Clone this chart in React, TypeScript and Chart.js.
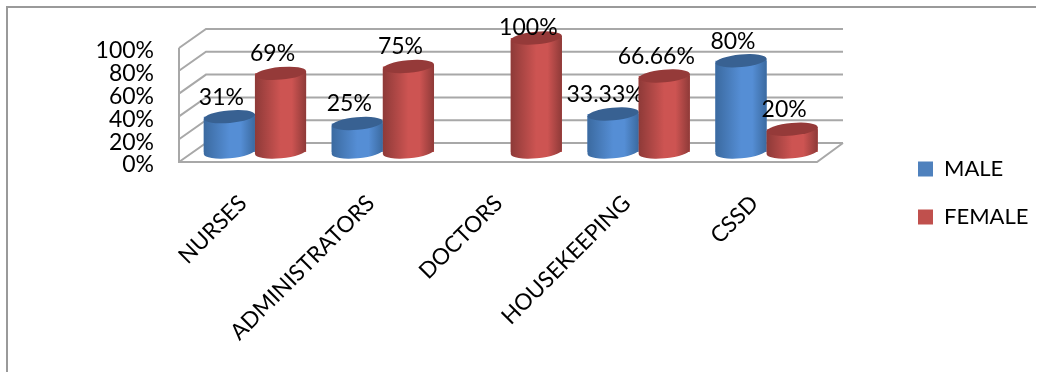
import React, { useEffect, useRef } from "react";
import { Chart, registerables } from "chart.js";

Chart.register(...registerables);

const categories = ["NURSES", "ADMINISTRATORS", "DOCTORS", "HOUSEKEEPING", "CSSD"];
const maleShare = [31, 25, null, 33.33, 80];
const femaleShare = [69, 75, 100, 66.66, 20];
const yTicks = [0, 20, 40, 60, 80, 100];

const FONT = "Lato, Carlito, sans-serif";
const GRID = "#a8a8a8";

const PALETTES = [
  { flat: "#4f81bd", edge: "#3b6aa0", mid: "#558ed5", cap: "#386192" },
  { flat: "#c0504d", edge: "#8e3a38", mid: "#cd5452", cap: "#953a39" },
];

// Floor depth of the pseudo-3D box, relative to the plane the cylinders stand on.
const FRONT_DROP = 10;
const BACK_RISE = 9;
const BOX_LEFT = 179;
const BOX_RIGHT = 817;
const DEPTH_X = 27;
const CAP_RY = 6.3;
const TILT = -0.09;

const boxPlugin = {
  id: "box3d",
  beforeDraw(chart: any) {
    const { ctx, scales, width, height } = chart;
    const y = scales.y;
    ctx.save();
    ctx.strokeStyle = "#9a9a9a";
    ctx.lineWidth = 2;
    ctx.beginPath();
    ctx.moveTo(7, height);
    ctx.lineTo(7, 7);
    ctx.lineTo(width - 3, 7);
    ctx.stroke();

    ctx.strokeStyle = GRID;
    ctx.lineWidth = 2;
    ctx.beginPath();
    for (const t of yTicks) {
      const py = y.getPixelForValue(t);
      ctx.moveTo(BOX_LEFT, py + FRONT_DROP);
      ctx.lineTo(BOX_LEFT + DEPTH_X, py - BACK_RISE);
      ctx.lineTo(BOX_RIGHT + DEPTH_X - 1, py - BACK_RISE);
    }
    const y0 = y.getPixelForValue(0);
    const y100 = y.getPixelForValue(100);
    ctx.moveTo(BOX_LEFT, y100 + FRONT_DROP);
    ctx.lineTo(BOX_LEFT, y0 + FRONT_DROP);
    ctx.lineTo(BOX_RIGHT, y0 + FRONT_DROP);
    ctx.lineTo(BOX_RIGHT + DEPTH_X - 1, y0 - BACK_RISE);
    ctx.stroke();
    ctx.restore();
  },
  afterLayout(chart: any) {
    // The legend sits lower and further right than its layout slot.
    const pad = chart.options.plugins.legend.labels.padding;
    chart.legend.left = 918 - pad;
    chart.legend.right = chart.width;
    chart.legend.top = 158 - pad;
    chart.legend.bottom = chart.height;
  },
};

const cylinderPlugin = {
  id: "cylinders",
  afterDatasetsDraw(chart: any) {
    const { ctx } = chart;
    const yBase = chart.scales.y.getPixelForValue(0);
    chart.data.datasets.forEach((ds: any, di: number) => {
      const pal = PALETTES[di];
      chart.getDatasetMeta(di).data.forEach((bar: any, i: number) => {
        const v = ds.data[i];
        if (v == null) return;
        const rx = bar.width / 2;
        const sag = rx * Math.sin(-TILT);
        const xL = bar.x - rx;
        const xR = bar.x + rx;
        const grad = ctx.createLinearGradient(xL, 0, xR, 0);
        grad.addColorStop(0, pal.edge);
        grad.addColorStop(0.5, pal.mid);
        grad.addColorStop(0.72, pal.mid);
        grad.addColorStop(1, pal.edge);

        ctx.save();
        ctx.fillStyle = grad;
        ctx.beginPath();
        ctx.moveTo(xR, bar.y - sag);
        ctx.lineTo(xL, bar.y + sag);
        ctx.lineTo(xL, yBase + sag);
        ctx.ellipse(bar.x, yBase, rx, CAP_RY, TILT, Math.PI, 0, true);
        ctx.closePath();
        ctx.fill();

        ctx.fillStyle = pal.cap;
        ctx.beginPath();
        ctx.ellipse(bar.x, bar.y, rx, CAP_RY, TILT, 0, Math.PI * 2);
        ctx.fill();

        // A full-height column has no headroom, so its label hugs the cap.
        const full = v >= 100;
        ctx.fillStyle = "#000";
        ctx.font = `23px ${FONT}`;
        ctx.textAlign = "center";
        ctx.textBaseline = "middle";
        ctx.fillText(`${v}%`, bar.x - 8, bar.y - (full ? 10 : 19.5));
        ctx.restore();
      });
    });
  },
};

export default function App() {
  const ref = useRef<HTMLCanvasElement>(null);

  useEffect(() => {
    document.body.style.margin = "0";
    const chart = new Chart(ref.current!, {
      type: "bar",
      data: {
        labels: categories,
        datasets: [
          { label: "MALE", data: maleShare, backgroundColor: PALETTES[0].flat, borderWidth: 0 },
          { label: "FEMALE", data: femaleShare, backgroundColor: PALETTES[1].flat, borderWidth: 0 },
        ],
      },
      options: {
        responsive: false,
        animation: false,
        layout: { padding: { top: 38, left: 0, right: 62, bottom: 0 } },
        datasets: { bar: { categoryPercentage: 0.8, barPercentage: 1 } },
        scales: {
          x: {
            grid: { display: false },
            border: { display: false },
            ticks: {
              color: "#000",
              font: { family: FONT, size: 22.5 },
              autoSkip: false,
              minRotation: 45,
              maxRotation: 45,
              padding: 30,
              labelOffset: -12,
            },
            afterFit(scale: any) {
              scale.height = 220;
              scale.paddingLeft = 0;
              scale.paddingRight = 0;
            },
          },
          y: {
            min: 0,
            max: 100,
            grid: { display: false },
            border: { display: false },
            afterBuildTicks(scale: any) {
              scale.ticks = yTicks.map((value) => ({ value }));
            },
            ticks: {
              color: "#000",
              font: { family: FONT, size: 23 },
              padding: 29,
              labelOffset: 13,
              autoSkip: false,
              callback: (v: any) => `${v}%`,
            },
            afterFit(scale: any) {
              scale.width = 191;
              scale.paddingTop = 0;
              scale.paddingBottom = 0;
            },
          },
        },
        plugins: {
          tooltip: { enabled: false },
          legend: {
            position: "right",
            align: "start",
            labels: {
              boxWidth: 15,
              boxHeight: 15,
              padding: 26,
              color: "#000",
              font: { family: FONT, size: 22 },
            },
          },
        },
      },
      plugins: [boxPlugin, cylinderPlugin],
    } as any);
    return () => chart.destroy();
  }, []);

  return <canvas ref={ref} width={1039} height={372} style={{ display: "block" }} />;
}
